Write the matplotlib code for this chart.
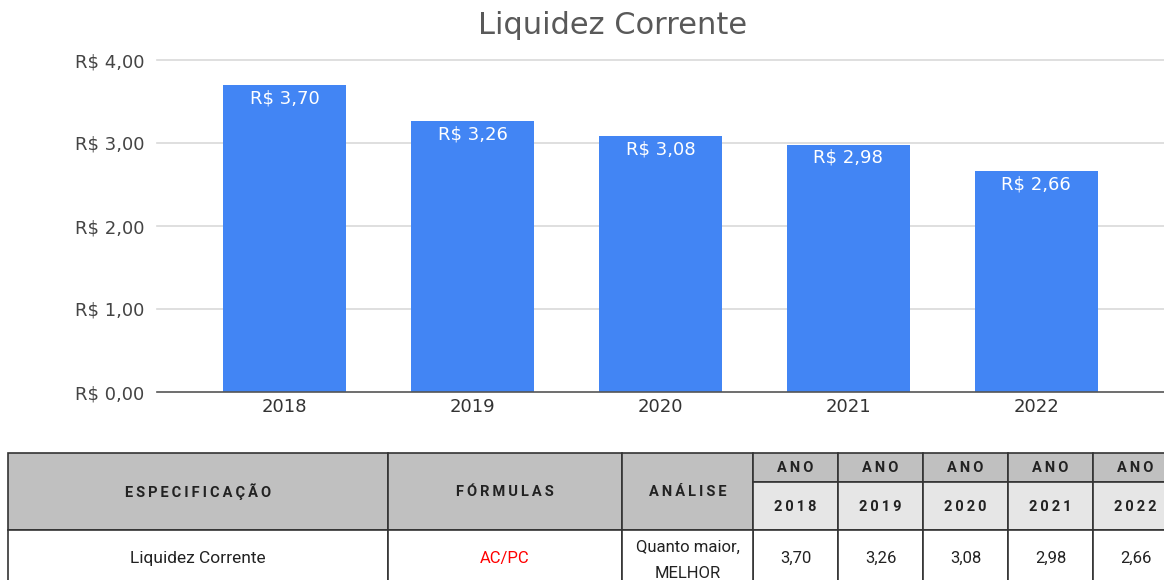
import matplotlib
matplotlib.use("Agg")
import matplotlib.pyplot as plt
from matplotlib.patches import Rectangle

years = ["2018", "2019", "2020", "2021", "2022"]
values = [3.70, 3.26, 3.08, 2.98, 2.66]
bar_labels = ["R$ 3,70", "R$ 3,26", "R$ 3,08", "R$ 2,98", "R$ 2,66"]
yticks = [0, 1, 2, 3, 4]
ytick_labels = ["R$ 0,00", "R$ 1,00", "R$ 2,00", "R$ 3,00", "R$ 4,00"]
title = "Liquidez Corrente"

head_spec = "ESPECIFICAÇÃO"
head_form = "FÓRMULAS"
head_anal = "ANÁLISE"
head_ano = "ANO"
row_spec = "Liquidez Corrente"
row_form = "AC/PC"
row_anal = ["Quanto maior,", "MELHOR"]
row_values = ["3,70", "3,26", "3,08", "2,98", "2,66"]

W, H = 1164, 580
fig = plt.figure(figsize=(W / 100, H / 100), dpi=100)

cf = "DejaVu Sans"
# ---- chart ----
ax = fig.add_axes([157 / W, (H - 392) / H, 1 - 157 / W, (392 - 60) / H])
x = list(range(len(years)))
bars = ax.bar(x, values, width=0.655, color="#4285F4", zorder=3)
ax.set_xlim(-0.68, 4.68)
ax.set_ylim(0, 4)
ax.set_yticks(yticks)
ax.set_yticklabels(ytick_labels, fontsize=13, color="#444444", family=cf)
ax.set_xticks(x)
ax.set_xticklabels(years, fontsize=13, color="#333333", family=cf)
ax.tick_params(axis="y", length=0, pad=9)
ax.tick_params(axis="x", length=0, pad=4)
for sp in ["top", "right", "left"]:
    ax.spines[sp].set_visible(False)
ax.spines["bottom"].set_color("#555555")
ax.spines["bottom"].set_linewidth(1.2)
ax.spines["bottom"].set_zorder(4)
for t in yticks[1:]:
    ax.axhline(t, color="#d9d9d9", linewidth=1.2, zorder=1, clip_on=False)
for xi, v, lab in zip(x, values, bar_labels):
    ax.annotate(lab, (xi, v), xytext=(0, -3), textcoords="offset points",
                ha="center", va="top", color="white", fontsize=13,
                family=cf, zorder=5)
fig.text(613 / W, 1 - 25 / H, title, ha="center", va="center", fontsize=22,
         color="#595959", family=cf)

# ---- table ----
at = fig.add_axes([0, 0, 1, 1], zorder=-1)
at.set_xlim(0, W)
at.set_ylim(H, 0)
at.axis("off")

cols = [8, 388, 622, 753, 838, 923, 1008, 1093, 1178]
r0, r1, r2, r3 = 453, 482, 530, 600
dark = "#c0c0c0"
light = "#e6e6e6"
lc = "#333333"
tf = ["Roboto", "DejaVu Sans"]

def spaced(s):
    return "\u2009".join(s)

def cell(x0, x1, y0, y1, fc):
    at.add_patch(Rectangle((x0, y0), x1 - x0, y1 - y0, facecolor=fc,
                           edgecolor=lc, linewidth=1.2))

for i, lab in enumerate([head_spec, head_form, head_anal]):
    cell(cols[i], cols[i + 1], r0, r2, dark)
    at.text((cols[i] + cols[i + 1]) / 2, (r0 + r2) / 2, spaced(lab), ha="center",
            va="center", fontsize=10.5, fontweight="bold", color="#222222", family=tf)
for j, y in enumerate(years):
    xa, xb = cols[3 + j], cols[4 + j]
    cell(xa, xb, r0, r1, dark)
    cell(xa, xb, r1, r2, light)
    at.text((xa + xb) / 2, (r0 + r1) / 2 + 1, spaced(head_ano), ha="center", va="center",
            fontsize=10.5, fontweight="bold", color="#222222", family=tf)
    at.text((xa + xb) / 2, (r1 + r2) / 2 + 1, spaced(y), ha="center", va="center",
            fontsize=10.5, fontweight="bold", color="#222222", family=tf)
    cell(xa, xb, r2, r3, "white")
    at.text((xa + xb) / 2, 558, row_values[j], ha="center", va="center",
            fontsize=12, color="#222222", family=tf)
for i in range(3):
    cell(cols[i], cols[i + 1], r2, r3, "white")
at.text((cols[0] + cols[1]) / 2, 558, row_spec, ha="center", va="center",
        fontsize=12.5, color="#222222", family=tf)
at.text((cols[1] + cols[2]) / 2, 558, row_form, ha="center", va="center",
        fontsize=12, color="#ff0000", family=tf)
at.text((cols[2] + cols[3]) / 2, 547, row_anal[0], ha="center", va="center",
        fontsize=12, color="#222222", family=tf)
at.text((cols[2] + cols[3]) / 2, 574, row_anal[1], ha="center", va="center",
        fontsize=12, color="#222222", family=tf)

fig.savefig("out.png", dpi=100, facecolor="white")
